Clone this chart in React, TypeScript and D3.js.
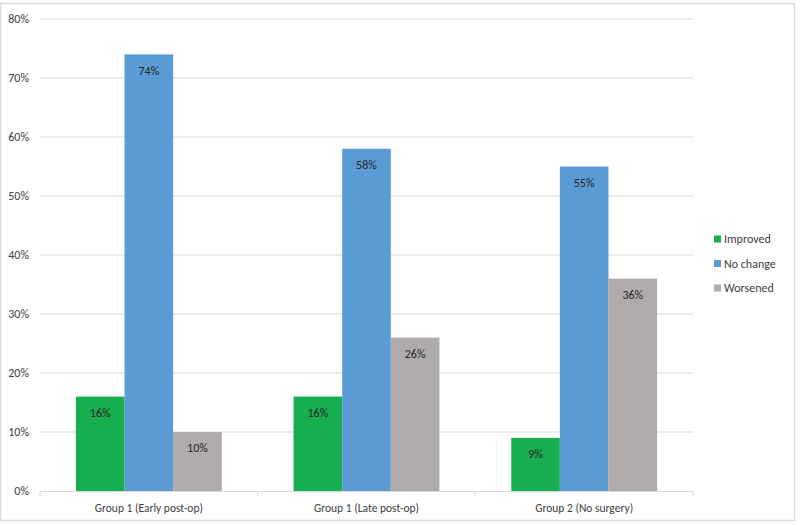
import React from "react";
import * as d3 from "d3";

const categories = ["Group 1 (Early post-op)", "Group 1 (Late post-op)", "Group 2 (No surgery)"];
const seriesNames = ["Improved", "No change", "Worsened"];
const improved = [16, 16, 9];
const noChange = [74, 58, 55];
const worsened = [10, 26, 36];
const yTicks = [0, 10, 20, 30, 40, 50, 60, 70, 80];

const colors = ["#18ad4f", "#5b9bd5", "#afabab"];
const FONT = "Carlito, Lato, 'Open Sans', sans-serif";

export default function App() {
  const W = 800, H = 526;
  const left = 40, right = 693, top = 19, bottom = 491;
  const series = [improved, noChange, worsened];
  const x0 = d3.scaleBand<string>().domain(categories).range([left, right]).paddingInner(0).paddingOuter(0);
  const inner = 0.33;
  const y = d3.scaleLinear().domain([0, 80]).range([bottom, top]);
  const bw = x0.bandwidth();
  const x1 = d3.scaleBand<string>().domain(seriesNames).range([bw * inner / 2, bw * (1 - inner / 2)]).padding(0);

  return (
    <svg width={W} height={H} style={{ position: "absolute", left: 0, top: 0 }} fontFamily={FONT}>
      <rect x={0} y={0} width={W} height={H} fill="#fff" />
      <rect x={0.5} y={3.5} width={794} height={517} fill="none" stroke="#d9d9d9" strokeWidth={1.5} />
      {yTicks.map((t) => (
        <g key={t}>
          {t > 0 && <line x1={left} x2={right} y1={y(t)} y2={y(t)} stroke="#d9d9d9" strokeWidth={1} />}
          <text x={29} y={y(t)} dy="0.35em" textAnchor="end" fontSize={12} fill="#404040">{t}%</text>
        </g>
      ))}
      {categories.map((c, ci) => (
        <g key={c} transform={`translate(${x0(c)},0)`}>
          {series.map((s, si) => {
            const xx = x1(seriesNames[si])!;
            return (
              <g key={si}>
                <rect x={xx} y={y(s[ci])} width={x1.bandwidth()} height={bottom - y(s[ci])} fill={colors[si]} />
                <text x={xx + x1.bandwidth() / 2} y={y(s[ci]) + 16} dy="0.35em" textAnchor="middle" fontSize={12} fill="#262626">{s[ci]}%</text>
              </g>
            );
          })}
          <text x={bw / 2} y={508} dy="0.35em" textAnchor="middle" fontSize={11.5} fill="#404040">{c}</text>
        </g>
      ))}
      <line x1={left} x2={right} y1={bottom + 0.5} y2={bottom + 0.5} stroke="#d9d9d9" strokeWidth={1} />
      {[0, 1, 2, 3].map((i) => {
        const xx = left + i * bw;
        return <line key={i} x1={xx} x2={xx} y1={bottom} y2={bottom + 5} stroke="#d9d9d9" strokeWidth={1} />;
      })}
      {seriesNames.map((n, i) => (
        <g key={n} transform={`translate(714, ${239 + i * 24.5})`}>
          <rect x={0} y={-3.5} width={7} height={7} fill={colors[i]} />
          <text x={10} y={0} dy="0.35em" fontSize={12} fill="#404040">{n}</text>
        </g>
      ))}
    </svg>
  );
}
